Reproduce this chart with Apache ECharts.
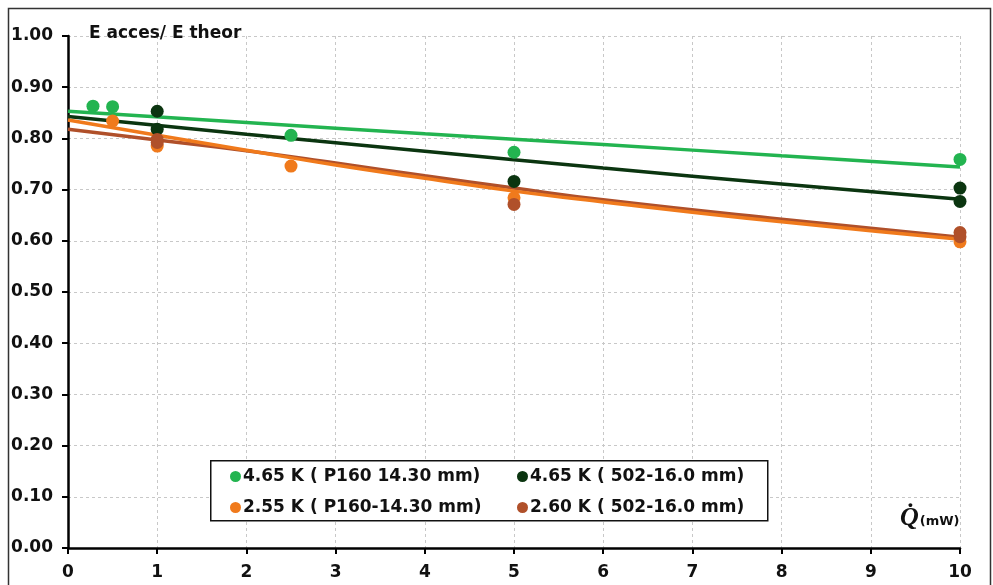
<!DOCTYPE html>
<html style="height: 100%">
<head>
    <meta charset="utf-8">
    <script type="text/javascript" src="https://cdn.jsdelivr.net/npm/echarts@6/dist/echarts.min.js"></script>
</head>
<body style="height: 100%; margin: 0; background: #fff">
<div id="container" style="width: 993px; height: 585px"></div>
<script type="text/javascript">
    // series names (legend)
    var names = ['4.65 K ( P160 14.30 mm)', '4.65 K ( 502-16.0 mm)', '2.55 K ( P160-14.30 mm)', '2.60 K ( 502-16.0 mm)'];
    var colors = ['#23b450', '#0b3510', '#f07a1c', '#b0502a'];

    // measured points [Q (mW), E acces / E theor]
    var ptsGreen = [[0.28, 0.863], [0.5, 0.862], [2.5, 0.806], [5, 0.773], [10, 0.759]];
    var ptsDark = [[1, 0.853], [1, 0.818], [5, 0.716], [10, 0.703], [10, 0.677]];
    var ptsOrange = [[0.5, 0.834], [1, 0.785], [2.5, 0.746], [5, 0.684], [10, 0.598]];
    var ptsBrown = [[1, 0.798], [1, 0.792], [5, 0.671], [10, 0.616], [10, 0.608]];

    // trend lines
    var trendGreen = [[0, 0.853], [2, 0.831], [4, 0.809], [6, 0.788], [8, 0.766], [10, 0.744]];
    var trendDark = [[0, 0.843], [2, 0.808], [4, 0.775], [6, 0.742], [8, 0.711], [10, 0.681]];
    var trendOrange = [[0, 0.836], [1, 0.806], [2, 0.777], [3, 0.748], [4, 0.722], [5, 0.697], [6, 0.676], [8, 0.637], [10, 0.603]];
    var trendBrown = [[0, 0.818], [1, 0.797], [2, 0.776], [3, 0.752], [4, 0.727], [5, 0.703], [6, 0.680], [8, 0.642], [10, 0.607]];

    var yTicks = ['0.00', '0.10', '0.20', '0.30', '0.40', '0.50', '0.60', '0.70', '0.80', '0.90', '1.00'];

    var pts = [ptsGreen, ptsDark, ptsOrange, ptsBrown];
    var trends = [trendGreen, trendDark, trendOrange, trendBrown];
    var lineOrder = [0, 1, 3, 2]; // orange drawn over brown

    var FONT = '"DejaVu Sans", "Liberation Sans", sans-serif';

    var dom = document.getElementById("container");
    var myChart = echarts.init(dom);

    var series = [];
    lineOrder.forEach(function (i) {
        series.push({
            name: 'trend' + i,
            type: 'line',
            data: trends[i],
            smooth: true,
            showSymbol: false,
            silent: true,
            z: 3,
            lineStyle: { color: colors[i], width: 3.5 }
        });
    });
    pts.forEach(function (p, i) {
        series.push({
            name: names[i],
            type: 'scatter',
            data: p,
            symbol: 'circle',
            symbolSize: 13,
            z: 4,
            itemStyle: { color: colors[i], opacity: 1 }
        });
    });

    var legendPos = [[225, 463], [512, 463], [225, 494], [512, 494]];
    var legends = names.map(function (n, i) {
        return {
            data: [n],
            left: legendPos[i][0],
            top: legendPos[i][1],
            icon: 'circle',
            itemWidth: 11,
            itemHeight: 11,
            z: 10,
            textStyle: { fontFamily: FONT, fontWeight: 'bold', fontSize: 17, color: '#111', padding: [0, 0, 0, -3] }
        };
    });

    var option = {
        animation: false,
        backgroundColor: '#fff',
        grid: { left: 68, right: 33, top: 36, bottom: 37 },
        legend: legends,
        xAxis: {
            type: 'value',
            min: 0,
            max: 10,
            interval: 1,
            axisLine: { lineStyle: { color: '#000', width: 2.5 } },
            axisTick: { show: true, length: 6, lineStyle: { color: '#000', width: 2 } },
            axisLabel: { margin: 16, fontFamily: FONT, fontWeight: 'bold', fontSize: 17, color: '#111' },
            splitLine: { show: true, lineStyle: { color: '#c8c8c8', type: [3, 3], width: 1 } }
        },
        yAxis: {
            type: 'value',
            min: 0,
            max: 1,
            interval: 0.1,
            axisLine: { show: true, lineStyle: { color: '#000', width: 2.5 } },
            axisTick: { show: true, length: 6, lineStyle: { color: '#000', width: 2 } },
            axisLabel: {
                margin: 15,
                fontFamily: FONT, fontWeight: 'bold', fontSize: 17, color: '#111',
                formatter: function (v) { return yTicks[Math.round(v * 10)]; }
            },
            splitLine: { show: true, lineStyle: { color: '#c8c8c8', type: [3, 3], width: 1 } }
        },
        graphic: [
            {
                type: 'rect', left: 6, top: 6, z: 0,
                shape: { width: 982, height: 600 },
                style: { fill: 'none', stroke: '#333', lineWidth: 1.5 }
            },
            {
                type: 'rect', left: 210, top: 460, z: 5,
                shape: { width: 557, height: 60 },
                style: { fill: '#fff', stroke: '#111', lineWidth: 1.5 }
            },
            {
                type: 'text', left: 89, top: 25, z: 6,
                style: { text: 'E acces/ E theor', font: 'bold 17px ' + FONT, fill: '#111' }
            },
            {
                type: 'text', left: 900, top: 505, z: 6,
                style: {
                    text: '{q|Q\u0307}{u|(mW)}',
                    rich: {
                        q: { font: 'italic bold 26px "Liberation Serif"', fill: '#111' },
                        u: { font: 'bold 13px ' + FONT, fill: '#111', padding: [8, 0, 0, 1] }
                    }
                }
            }
        ],
        series: series
    };

    myChart.setOption(option);
</script>
</body>
</html>
